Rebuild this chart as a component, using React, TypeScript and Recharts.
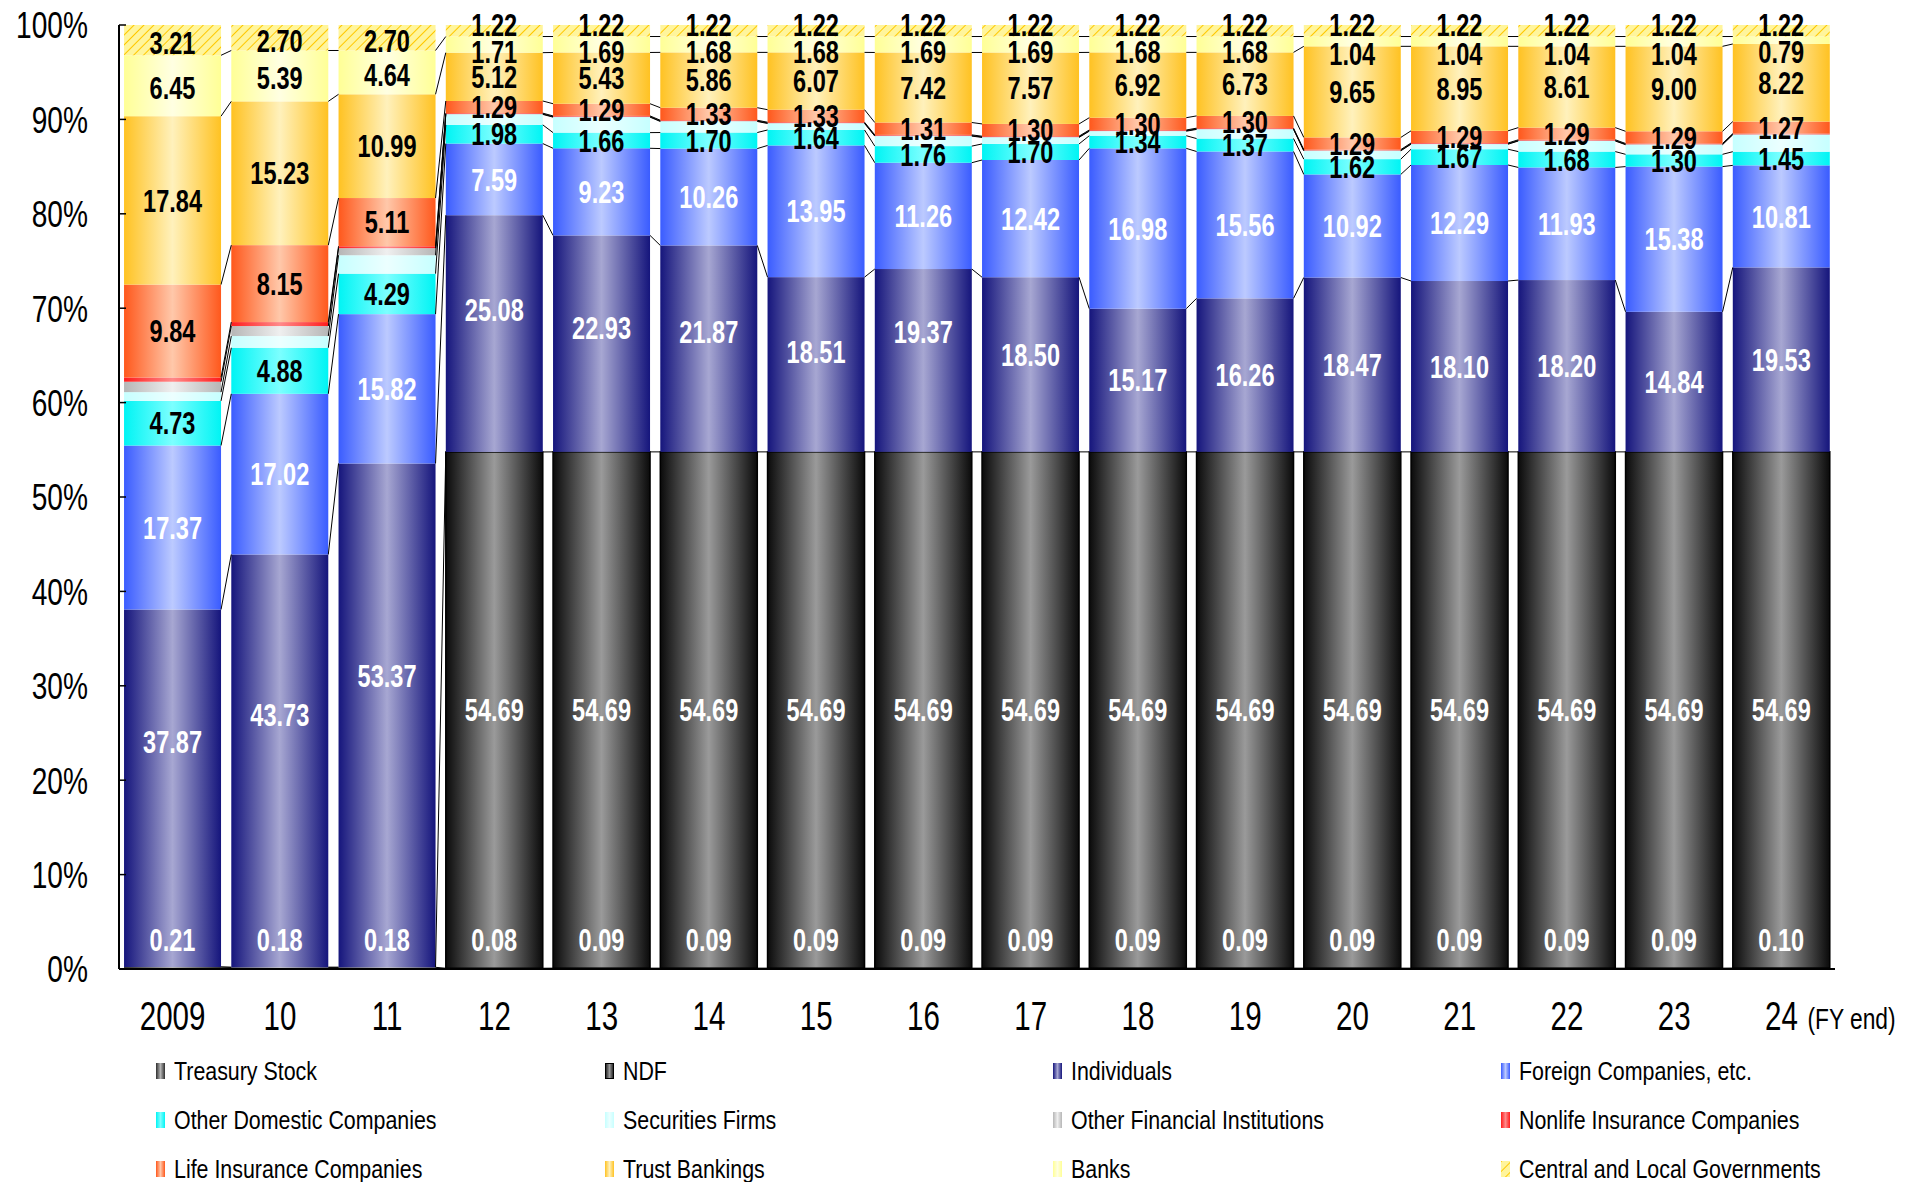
import { BarChart, Bar, XAxis, YAxis, LabelList } from 'recharts';

const years = ['2009', '10', '11', '12', '13', '14', '15', '16', '17', '18', '19', '20', '21', '22', '23', '24'];

const treasury = [0.21, 0.18, 0.18, 0.08, 0.09, 0.09, 0.09, 0.09, 0.09, 0.09, 0.09, 0.09, 0.09, 0.09, 0.09, 0.10];
const ndf = [0, 0, 0, 54.69, 54.69, 54.69, 54.69, 54.69, 54.69, 54.69, 54.69, 54.69, 54.69, 54.69, 54.69, 54.69];
const individuals = [37.87, 43.73, 53.37, 25.08, 22.93, 21.87, 18.51, 19.37, 18.50, 15.17, 16.26, 18.47, 18.10, 18.20, 14.84, 19.53];
const foreign = [17.37, 17.02, 15.82, 7.59, 9.23, 10.26, 13.95, 11.26, 12.42, 16.98, 15.56, 10.92, 12.29, 11.93, 15.38, 10.81];
const otherDomestic = [4.73, 4.88, 4.29, 1.98, 1.66, 1.70, 1.64, 1.76, 1.70, 1.34, 1.37, 1.62, 1.67, 1.68, 1.30, 1.45];
const securities = [0.93, 1.24, 1.95, 1.11, 1.64, 1.17, 0.69, 1.06, 0.69, 0.48, 0.97, 0.88, 0.53, 1.12, 1.02, 1.79];
const otherFinancial = [1.10, 1.06, 0.75, 0.05, 0.05, 0.05, 0.05, 0.05, 0.05, 0.05, 0.05, 0.05, 0.05, 0.05, 0.05, 0.05];
const nonlife = [0.45, 0.42, 0.20, 0.08, 0.08, 0.08, 0.08, 0.08, 0.08, 0.08, 0.08, 0.08, 0.08, 0.08, 0.08, 0.08];
const life = [9.84, 8.15, 5.11, 1.29, 1.29, 1.33, 1.33, 1.31, 1.30, 1.30, 1.30, 1.29, 1.29, 1.29, 1.29, 1.27];
const trust = [17.84, 15.23, 10.99, 5.12, 5.43, 5.86, 6.07, 7.42, 7.57, 6.92, 6.73, 9.65, 8.95, 8.61, 9.00, 8.22];
const banks = [6.45, 5.39, 4.64, 1.71, 1.69, 1.68, 1.68, 1.69, 1.69, 1.68, 1.68, 1.04, 1.04, 1.04, 1.04, 0.79];
const governments = [3.21, 2.70, 2.70, 1.22, 1.22, 1.22, 1.22, 1.22, 1.22, 1.22, 1.22, 1.22, 1.22, 1.22, 1.22, 1.22];

const yTicks = [0, 10, 20, 30, 40, 50, 60, 70, 80, 90, 100];

const FONT = "'Liberation Sans', Arial, sans-serif";

// bottom to top
const series = [
  { key: 'treasury', name: 'Treasury Stock', values: treasury, edge: '#2e2e2e', mid: '#b4b4b4', label: '#fff' },
  { key: 'ndf', name: 'NDF', values: ndf, edge: '#0a0a0a', mid: '#9a9a9a', label: '#fff', stroke: '#000' },
  { key: 'individuals', name: 'Individuals', values: individuals, edge: '#15157c', mid: '#a7a7d2', label: '#fff' },
  { key: 'foreign', name: 'Foreign Companies, etc.', values: foreign, edge: '#3a5cff', mid: '#bccaff', label: '#fff' },
  { key: 'otherDomestic', name: 'Other Domestic Companies', values: otherDomestic, edge: '#00f4f4', mid: '#7cffff', label: '#000' },
  { key: 'securities', name: 'Securities Firms', values: securities, edge: '#c6ffff', mid: '#ecffff', label: null },
  { key: 'otherFinancial', name: 'Other Financial Institutions', values: otherFinancial, edge: '#b6b6b6', mid: '#efefef', label: null },
  { key: 'nonlife', name: 'Nonlife Insurance Companies', values: nonlife, edge: '#ff1c1c', mid: '#ff8a8a', label: null },
  { key: 'life', name: 'Life Insurance Companies', values: life, edge: '#ff581c', mid: '#ffc8aa', label: '#000' },
  { key: 'trust', name: 'Trust Bankings', values: trust, edge: '#ffc222', mid: '#fff1bc', label: '#000' },
  { key: 'banks', name: 'Banks', values: banks, edge: '#ffff96', mid: '#ffffe2', label: '#000' },
  { key: 'governments', name: 'Central and Local Governments', values: governments, edge: '', mid: '', label: '#000' },
];

const data = years.map((year, i) => {
  const row: any = { year };
  series.forEach(s => { row[s.key] = s.values[i]; });
  return row;
});

// cumulative tops of each series per year (for the series lines)
const tops = series.map((_, si) => years.map((__, i) => series.slice(0, si + 1).reduce((a, s) => a + s.values[i], 0)));

const fillOf = (si: number) => (series[si].key === 'governments' ? 'url(#hatch)' : `url(#grad-${series[si].key})`);

// the individuals labels were dragged upward by hand in the original
const individualsLabelShift = [-46, -46, -40, -24, -16, -17, -13, -29, -10, 0, 0, 0, 0, 0, 0, 0];

// condensed text: the reference uses a narrow face, so squeeze a regular one
function Narrow({ x, y, sx, anchor = 'middle', size, bold, fill = '#000', dy = '0.36em', children }: any) {
  return (
    <g transform={`translate(${x} ${y}) scale(${sx} 1)`}>
      <text x={0} y={0} dy={dy} textAnchor={anchor} fontFamily={FONT} fontSize={size}
        fontWeight={bold ? 'bold' : 'normal'} fill={fill}>
        {children}
      </text>
    </g>
  );
}

const rights: Record<number, number> = {};

const makeShape = (si: number) => (p: any) => {
  const { x, y, width, height, index, background } = p;
  const s = series[si];
  const h = Math.max(height || 0, 0);
  const parts: any[] = [];
  if (h > 0) {
    parts.push(
      <rect key="r" x={x} y={y} width={width} height={h} fill={fillOf(si)}
        stroke={s.stroke || 'none'} strokeWidth={s.stroke ? 1.5 : 0} />
    );
  }
  if (si === series.length - 1) {
    rights[index] = x + width;
    if (index > 0 && rights[index - 1] !== undefined) {
      let top = y;
      let full = (h / governments[index]) * 100;
      if (background && background.height) {
        top = background.y;
        full = background.height;
      }
      const yOf = (v: number) => top + full * (1 - Math.min(v, 100) / 100);
      for (let k = 0; k < series.length - 1; k++) {
        parts.push(
          <line key={'l' + k} x1={rights[index - 1]} y1={yOf(tops[k][index - 1])} x2={x} y2={yOf(tops[k][index])}
            stroke="#000" strokeWidth={1} />
        );
      }
    }
  }
  return <g>{parts}</g>;
};

const makeLabel = (si: number) => (p: any) => {
  const { x, y, width, height, index } = p;
  const s = series[si];
  const v = s.values[index];
  if (!s.label || !v) return null;
  let cy = y + height / 2;
  if (s.key === 'treasury') cy = y + height - 29;
  if (s.key === 'individuals') cy += individualsLabelShift[index];
  if (s.key === 'governments') cy += v < 2 ? -6 : 3;
  if (s.key === 'banks') cy += v < 2 ? (v < 1.5 ? 12 : 7) : 2;
  return (
    <Narrow x={x + width / 2} y={cy} sx={0.76} size={31} bold fill={s.label}>
      {v.toFixed(2)}
    </Narrow>
  );
};

const XTick = (p: any) => {
  const { x, y, payload, index } = p;
  return (
    <g>
      <Narrow x={x} y={y} dy={61} sx={0.72} size={41}>{payload.value}</Narrow>
      {index === years.length - 1 && (
        <Narrow x={x + 26} y={y} dy={60} sx={0.76} size={30} anchor="start">(FY end)</Narrow>
      )}
    </g>
  );
};

const YTick = (p: any) => {
  const { x, y, payload } = p;
  const axisX = x + 31;
  return (
    <g>
      <line x1={axisX} y1={y} x2={axisX + 7} y2={y} stroke="#000" strokeWidth={1.5} />
      <Narrow x={x} y={y} sx={0.76} size={37} anchor="end">{`${payload.value}%`}</Narrow>
    </g>
  );
};

const legendCols = [156, 605, 1053, 1501];
const legendRows = [1071, 1120, 1169];

function LegendIcon({ si }: { si: number }) {
  const s = series[si];
  return (
    <svg width={9} height={16} style={{ position: 'absolute', left: 0, top: -8 }}>
      <rect x={0} y={0} width={9} height={16} fill={fillOf(si)} stroke={s.stroke || 'none'} strokeWidth={s.stroke ? 2 : 0} />
    </svg>
  );
}

export default function App() {
  return (
    <div style={{ position: 'absolute', left: 0, top: 0, width: 1909, height: 1182, background: '#fff', fontFamily: FONT }}>
      <svg width={0} height={0} style={{ position: 'absolute' }}>
        <defs>
          {series.filter(s => s.key !== 'governments').map(s => (
            <linearGradient key={s.key} id={`grad-${s.key}`} x1="0" y1="0" x2="1" y2="0">
              <stop offset="0%" stopColor={s.edge} />
              <stop offset="50%" stopColor={s.mid} />
              <stop offset="100%" stopColor={s.edge} />
            </linearGradient>
          ))}
          <pattern id="hatch" patternUnits="userSpaceOnUse" width="7" height="7" patternTransform="rotate(45)">
            <rect x="0" y="0" width="7" height="7" fill="#fff59c" />
            <line x1="0" y1="0" x2="0" y2="7" stroke="#ffc800" strokeWidth="2" />
          </pattern>
        </defs>
      </svg>
      <BarChart width={1909} height={1045} data={data} margin={{ top: 25, right: 74, bottom: 0, left: 0 }}
        barCategoryGap="4.7%">
        <XAxis dataKey="year" height={76} tickLine={false} axisLine={{ stroke: '#000', strokeWidth: 2 }}
          tick={<XTick />} interval={0} tickSize={0} tickMargin={0} />
        <XAxis xAxisId="top" dataKey="year" orientation="top" height={0} tick={false} tickLine={false}
          axisLine={{ stroke: '#000', strokeWidth: 1.5 }} />
        <YAxis domain={[0, 100]} ticks={yTicks} allowDataOverflow width={119} tickLine={false}
          axisLine={{ stroke: '#000', strokeWidth: 2 }} tickSize={6} tickMargin={25}
          tick={<YTick />} />
        <YAxis yAxisId="right" orientation="right" width={0} tick={false} tickLine={false}
          axisLine={{ stroke: '#000', strokeWidth: 1.5 }} />
        {series.map((s, si) => (
          <Bar key={s.key} dataKey={s.key} stackId="a" shape={makeShape(si)} isAnimationActive={false}>
            <LabelList dataKey={s.key} content={makeLabel(si)} />
          </Bar>
        ))}
      </BarChart>
      {series.map((s, si) => {
        const col = si % 4;
        const row = Math.floor(si / 4);
        return (
          <div key={s.key} style={{ position: 'absolute', left: legendCols[col], top: legendRows[row], height: 0 }}>
            <LegendIcon si={si} />
            <span style={{
              position: 'absolute', left: 18, top: -15, fontSize: 25, lineHeight: '30px', whiteSpace: 'nowrap',
              color: '#000', transform: 'scaleX(0.855)', transformOrigin: 'left center',
            }}>
              {s.name}
            </span>
          </div>
        );
      })}
    </div>
  );
}
